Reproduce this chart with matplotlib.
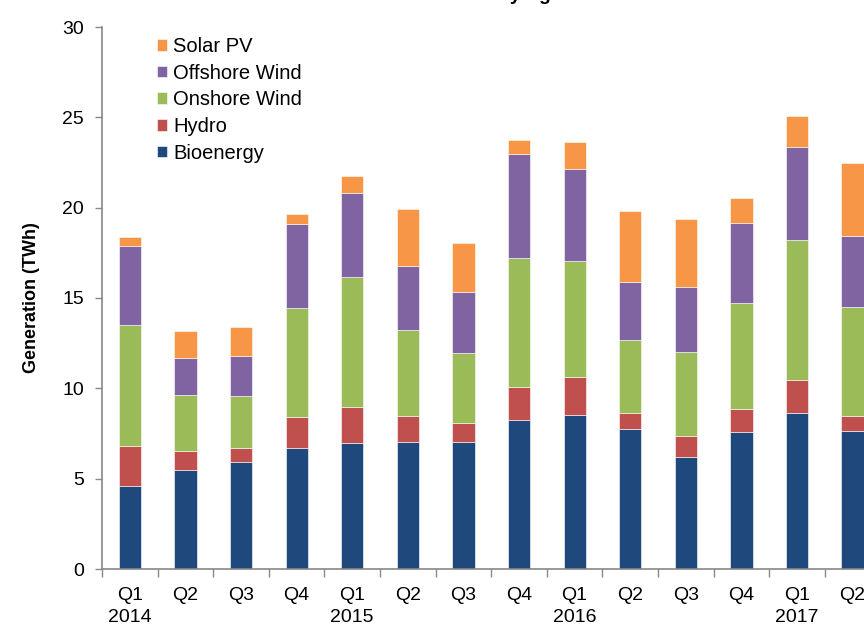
import matplotlib.pyplot as plt
import numpy as np

plt.rcParams['font.family'] = ['Liberation Sans', 'DejaVu Sans']

# quarters (label shown under each bar)
quarters = ['Q1\n2014', 'Q2', 'Q3', 'Q4',
            'Q1\n2015', 'Q2', 'Q3', 'Q4',
            'Q1\n2016', 'Q2', 'Q3', 'Q4',
            'Q1\n2017', 'Q2']

# generation by technology, TWh
bioenergy = [4.59, 5.46, 5.94, 6.70, 6.95, 7.01, 7.05, 8.23, 8.54, 7.73, 6.22, 7.60, 8.65, 7.65]
hydro     = [2.23, 1.09, 0.77, 1.73, 2.03, 1.44, 1.05, 1.83, 2.09, 0.92, 1.16, 1.24, 1.83, 0.83]
onshore   = [6.68, 3.06, 2.86, 6.00, 7.18, 4.78, 3.84, 7.15, 6.41, 4.02, 4.65, 5.90, 7.73, 6.02]
offshore  = [4.37, 2.08, 2.23, 4.68, 4.67, 3.56, 3.37, 5.74, 5.11, 3.23, 3.56, 4.42, 5.16, 3.95]
solar     = [0.49, 1.48, 1.59, 0.55, 0.94, 3.12, 2.71, 0.81, 1.48, 3.89, 3.76, 1.35, 1.70, 4.02]

series = [('Bioenergy', bioenergy, '#1F497D'),
          ('Hydro', hydro, '#C0504D'),
          ('Onshore Wind', onshore, '#9BBB59'),
          ('Offshore Wind', offshore, '#8064A2'),
          ('Solar PV', solar, '#F79646')]

fig = plt.figure(figsize=(8.64, 6.25), dpi=100)
ax = fig.add_axes([0.1181, 0.0896, 0.9009, 0.8672])

x = np.arange(len(quarters))
bottom = np.zeros(len(quarters))
for name, vals, col in series:
    ax.bar(x, vals, 0.4, bottom=bottom, color=col, label=name,
           edgecolor='#ffffff', linewidth=0.4)
    bottom += np.array(vals)

ax.set_xlim(-0.5, len(quarters) - 0.5)
ax.set_ylim(0, 30)
ax.set_yticks(range(0, 31, 5))

ax.set_xticks(x)
ax.set_xticklabels(quarters, fontsize=14, linespacing=1.4, va='top')
ax.tick_params(axis='x', which='major', length=0, pad=13)
ax.set_xticks(np.arange(-0.5, len(quarters), 1), minor=True)
ax.tick_params(axis='x', which='minor', length=6, color='#888888', width=1)
ax.tick_params(axis='y', labelsize=14, length=5, color='#888888', width=1, pad=8)

for s in ['top', 'right']:
    ax.spines[s].set_visible(False)
for s in ['left', 'bottom']:
    ax.spines[s].set_color('#888888')
    ax.spines[s].set_linewidth(1.2)

ax.set_ylabel('Generation (TWh)', fontsize=13, fontweight='bold', labelpad=16)

h, l = ax.get_legend_handles_labels()
ax.legend(h[::-1], l[::-1], loc='upper left', bbox_to_anchor=(0.058, 1.0),
          frameon=False, fontsize=14.5, handlelength=0.5, handleheight=0.5,
          handletextpad=0.3, labelspacing=0.38, borderaxespad=0.1)

# title sits mostly above the visible area (only descenders show)
fig.text(521 / 864, 1.0, 'Renewable electricity', ha='right', va='baseline',
         fontsize=14, fontweight='bold')
fig.text(538 / 864, 1.0, 'generation', ha='left', va='baseline',
         fontsize=14, fontweight='bold')

fig.savefig('out.png', dpi=100)
